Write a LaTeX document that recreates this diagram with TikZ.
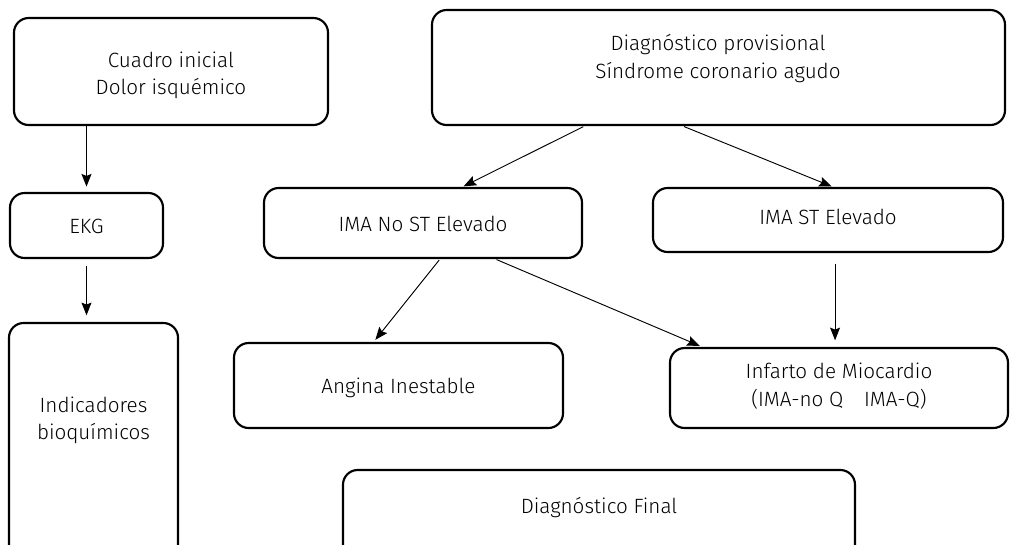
\documentclass[tikz,border=0pt]{standalone}
\usepackage{fontspec}
\setmainfont{Fira Sans}[UprightFont=* Light]
\usetikzlibrary{arrows.meta,calc}
\begin{document}
\begin{tikzpicture}[x=0.75pt,y=-0.75pt,
  box/.style={draw=black,line width=1.6pt,rounded corners=11pt,inner sep=0pt},
  lbl/.style={align=center,font=\fontsize{15.5}{20.5}\selectfont,inner sep=0pt},
  link/.style={draw=black,line width=0.7pt,-{Stealth[length=9.5pt,width=7.5pt,inset=1.5pt]}}]
\useasboundingbox (0,0) rectangle (1010,544);
\fill[white] (0,0) rectangle (1010,544);

% boxes (positions are centres in pixel units)
\node[box,minimum width=314*0.75pt,minimum height=107*0.75pt] (cuadro) at (171,71.5) {};
\node[box,minimum width=573*0.75pt,minimum height=115*0.75pt] (prov) at (718.5,67.5) {};
\node[box,minimum width=153*0.75pt,minimum height=65*0.75pt] (ekg) at (86.5,225.5) {};
\node[box,minimum width=169*0.75pt,minimum height=237*0.75pt] (ind) at (93.5,441.5) {};
\node[box,minimum width=318*0.75pt,minimum height=70*0.75pt] (nost) at (423,223) {};
\node[box,minimum width=350*0.75pt,minimum height=64*0.75pt] (st) at (828,220) {};
\node[box,minimum width=329*0.75pt,minimum height=85*0.75pt] (angina) at (398.5,385.5) {};
\node[box,minimum width=338*0.75pt,minimum height=80*0.75pt] (infarto) at (839,388) {};
\node[box,minimum width=512*0.75pt,minimum height=90*0.75pt] (final) at (599,515) {};

% labels
\node[lbl] (cuadro-t) at (171,75) {Cuadro inicial\\Dolor isquémico};
\node[lbl] (prov-t) at (718,58.5) {Diagnóstico provisional\\Síndrome coronario agudo};
\node[lbl] (ekg-t) at (86.5,226) {EKG};
\node[lbl] (ind-t) at (93.5,420) {Indicadores\\bioquímicos};
\node[lbl] (nost-t) at (423,224) {IMA No ST Elevado};
\node[lbl] (st-t) at (828,217) {IMA ST Elevado};
\node[lbl] (angina-t) at (398.5,388) {Angina Inestable};
\node[lbl] (infarto-t) at (839,386) {Infarto de Miocardio\\(IMA-no Q\quad IMA-Q)};
\node[lbl] (final-t) at (599,508) {Diagnóstico Final};

% connectors
\draw[link,shorten >=4pt] (ekg.north |- cuadro.south) -- (ekg.north);
\draw[link,shorten <=5pt,shorten >=5pt] (ekg.south) -- (ekg.south |- ind.north);
\draw[link,shorten <=1pt,shorten >=1pt]
  ($(prov.south west)!0.267!(prov.south east)$) -- ($(nost.north west)!0.623!(nost.north east)$);
\draw[link,shorten <=1pt,shorten >=1pt]
  ($(prov.south west)!0.438!(prov.south east)$) -- ($(st.north west)!0.514!(st.north east)$);
\draw[link,shorten <=1pt,shorten >=2pt]
  ($(nost.south west)!0.553!(nost.south east)$) -- ($(angina.north west)!0.425!(angina.north east)$);
\draw[link,shorten <=1pt,shorten >=2pt]
  ($(nost.south west)!0.726!(nost.south east)$) -- ($(infarto.north west)!0.098!(infarto.north east)$);
\coordinate (stfoot) at ($(st.south west)!0.52!(st.south east)$);
\draw[link,shorten <=8pt,shorten >=5pt] (stfoot) -- (stfoot |- infarto.north);
\end{tikzpicture}
\end{document}
